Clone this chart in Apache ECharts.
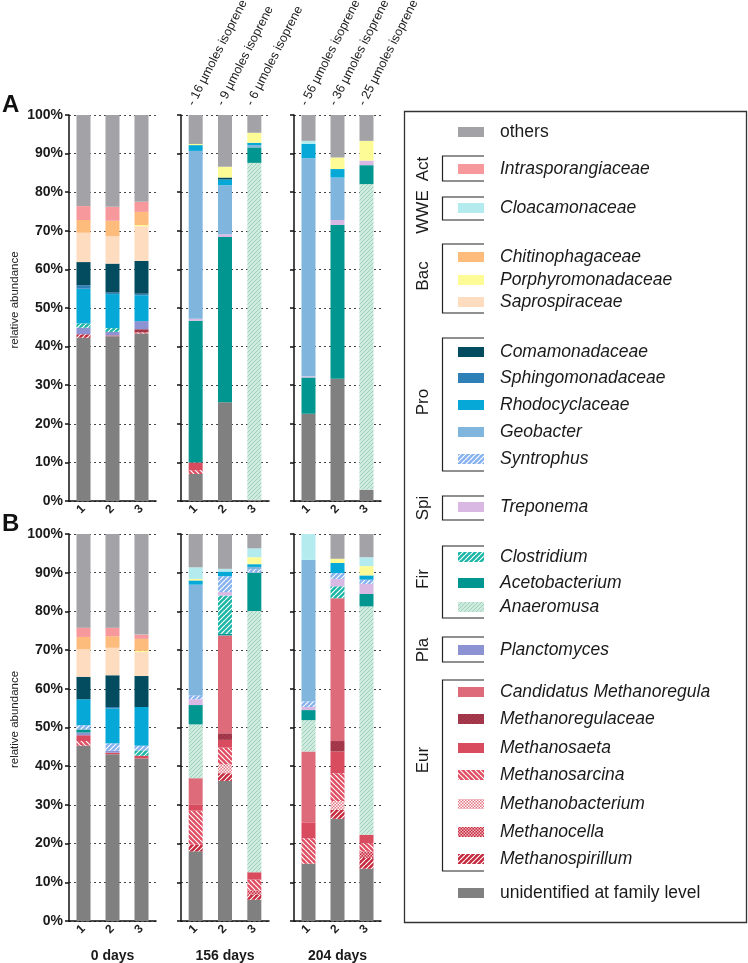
<!DOCTYPE html>
<html><head><meta charset="utf-8">
<script src="https://cdn.jsdelivr.net/npm/echarts@6/dist/echarts.min.js"></script>
<style>html,body{margin:0;padding:0;background:#fff}#c{width:748px;height:963px}</style>
</head><body><div id="c"></div><script>
// ---------------- DATA ----------------
const groupLabels = ['0 days', '156 days', '204 days'];
const replicateLabels = ['1', '2', '3'];
const panelLabels = ['A', 'B'];
const yTickFormat = '{value}%';
const isopreneNotes = ['- 16 µmoles isoprene', '- 9 µmoles isoprene', '- 6 µmoles isoprene',
                       '- 56 µmoles isoprene', '- 36 µmoles isoprene', '- 25 µmoles isoprene'];
// Each array has 18 bars: panel A (0 d r1-3, 156 d r1-3, 204 d r1-3), then panel B (same order)
const unidentified       = [42.3,42.7,43.4, 7.0,25.6,0.3, 22.6,31.7,2.9,  45.3,43.1,42.0, 18.0,36.2,5.5, 14.8,26.4,13.5];
const methanospirillum   = [0.9,0,0, 0,0,0, 0,0,0,  0,0,0, 1.7,2.0,1.3, 0,2.3,2.8];
const methanocella       = [0,0,0, 0,0,0, 0,0,0,  0,0,0, 0,0,1.1, 0,0,1.7];
const methanobacterium   = [0,0,0, 0,0,0, 0,0,0,  0,0,0, 0,2.3,0, 0,2.3,0];
const methanosarcina     = [0,0,0.3, 1.0,0,0, 0,0,0,  1.2,0,0, 8.8,4.3,2.8, 6.6,7.2,2.1];
const methanosaeta       = [0,0.2,0, 2.0,0,0, 0,0,0,  1.5,0.4,0.7, 1.5,2.0,1.9, 4.1,5.6,2.2];
const methanoregulaceae  = [0,0,0.8, 0,0,0, 0,0,0,  0,0,0, 0,1.7,0, 0,2.7,0];
const candMethanoregula  = [0,0,0, 0,0,0, 0,0,0,  0,0,0, 6.9,25.3,0, 18.3,36.9,0];
const planctomyces       = [1.7,0.9,2.1, 0,0,0, 0,0,0,  0.7,0.5,0, 0,0,0, 0,0,0];
const anaeromusa         = [0,0,0, 0,0,87.3, 0,0,79.2,  0,0,0, 13.9,0,67.5, 8.1,0,59.0];
const acetobacterium     = [0,0,0, 36.7,42.8,4.0, 9.4,39.8,4.9,  0.8,0,0, 5.0,0.4,9.9, 2.6,0,3.2];
const clostridium        = [1.1,1.0,0, 0,0,0, 0,0,0,  0,0,1.4, 0,9.9,0, 0,3.1,0];
const treponema          = [0,0,0, 0.5,0.7,0, 0.3,1.3,1.2,  0,0,0, 1.5,0.9,0, 0.8,1.9,2.6];
const syntrophus         = [0,0,0, 0,0,0, 0,0,0,  1.1,1.9,1.2, 1.0,4.1,0.9, 1.5,1.5,1.1];
const geobacter          = [0,0,0, 43.5,12.7,0.6, 56.5,11.0,0,  0,0,0, 28.6,0,0.6, 36.5,0,0];
const rhodocyclaceae     = [9.0,8.8,6.7, 1.5,1.5,0.6, 3.7,2.2,0,  6.7,9.0,10.0, 1.1,1.2,0.7, 0,2.6,1.1];
const sphingomonadaceae  = [0.9,0.4,0.4, 0,0,0, 0,0,0,  0,0.4,0, 0,0,0, 0,0,0];
const comamonadaceae     = [6.0,7.5,8.5, 0,0.5,0, 0,0,0,  5.8,8.2,8.0, 0,0,0, 0,0,0];
const saprospiraceae     = [7.6,7.1,9.0, 0,0,0, 0,0,0,  7.1,7.1,6.2, 0,0,0, 0,0,0];
const porphyromonadaceae = [0,0,0.3, 0.3,2.8,2.6, 0,3.0,5.1,  0,0,0.3, 0.4,0,1.8, 0,1.1,2.4];
const chitinophagaceae   = [3.3,4.0,3.4, 0,0,0, 0,0,0,  3.2,3.0,3.1, 0,0,0, 0,0,0];
const cloacamonaceae     = [0,0,0, 0,0,0, 0.8,0,0,  0,0,0, 3.0,0.7,2.3, 6.7,0,2.3];
const intrasporangiaceae = [3.6,3.6,2.6, 0,0,0, 0,0,0,  2.4,2.2,1.1, 0,0,0, 0,0,0];
const others             = [23.6,23.8,22.5, 7.5,13.4,4.6, 6.7,11.0,6.7,  24.2,24.2,26.0, 8.6,9.0,3.7, 0,6.4,6.0];

// ---------------- STYLE HELPERS ----------------
const FONT = "'Liberation Sans', Arial, Helvetica, sans-serif";
function stripes(bg, fg, size, lw, dir) {
  const c = document.createElement('canvas'); c.width = c.height = size;
  const x = c.getContext('2d');
  x.fillStyle = bg; x.fillRect(0, 0, size, size);
  x.strokeStyle = fg; x.lineWidth = lw; x.beginPath();
  for (const x0 of [-size, 0, size]) {
    if (dir > 0) { x.moveTo(x0, size); x.lineTo(x0 + size, 0); }
    else { x.moveTo(x0, 0); x.lineTo(x0 + size, size); }
  }
  x.stroke();
  return { image: c, repeat: 'repeat' };
}
function checker(bg, fg, cell) {
  const size = cell * 2;
  const c = document.createElement('canvas'); c.width = c.height = size;
  const x = c.getContext('2d');
  x.fillStyle = bg; x.fillRect(0, 0, size, size);
  x.fillStyle = fg; x.fillRect(0, 0, cell, cell); x.fillRect(cell, cell, cell, cell);
  return { image: c, repeat: 'repeat' };
}

// stacking order bottom -> top
const taxa = [
  { name: 'unidentified at family level', data: unidentified, color: '#808080', italic: false },
  { name: 'Methanospirillum', data: methanospirillum, color: stripes('#c52a3e', '#ffffff', 5, 1.1, 1), italic: true },
  { name: 'Methanocella', data: methanocella, color: checker('#c52a3e', '#f1b6be', 1.5), italic: true },
  { name: 'Methanobacterium', data: methanobacterium, color: checker('#e27685', '#ffffff', 1.5), italic: true },
  { name: 'Methanosarcina', data: methanosarcina, color: stripes('#e04e63', '#ffffff', 5, 1.2, -1), italic: true },
  { name: 'Methanosaeta', data: methanosaeta, color: '#d94b5f', italic: true },
  { name: 'Methanoregulaceae', data: methanoregulaceae, color: stripes('#a63a4c', '#963042', 4, 1, 1), italic: true },
  { name: 'Candidatus Methanoregula', data: candMethanoregula, color: '#de6b7a', italic: true },
  { name: 'Planctomyces', data: planctomyces, color: '#8c92d2', italic: true },
  { name: 'Anaeromusa', data: anaeromusa, color: stripes('#cfeade', '#9ed2ba', 4, 1, 1), italic: true },
  { name: 'Acetobacterium', data: acetobacterium, color: '#019690', italic: true },
  { name: 'Clostridium', data: clostridium, color: stripes('#1bb6a7', '#ffffff', 5, 1.2, 1), italic: true },
  { name: 'Treponema', data: treponema, color: '#d9b9e4', italic: true },
  { name: 'Syntrophus', data: syntrophus, color: stripes('#86b2ef', '#ffffff', 5, 1.2, 1), italic: true },
  { name: 'Geobacter', data: geobacter, color: '#80b6dd', italic: true },
  { name: 'Rhodocyclaceae', data: rhodocyclaceae, color: '#05a8d6', italic: true },
  { name: 'Sphingomonadaceae', data: sphingomonadaceae, color: '#2f80b6', italic: true },
  { name: 'Comamonadaceae', data: comamonadaceae, color: '#034c60', italic: true },
  { name: 'Saprospiraceae', data: saprospiraceae, color: '#fedcc0', italic: true },
  { name: 'Porphyromonadaceae', data: porphyromonadaceae, color: '#fdfb96', italic: true },
  { name: 'Chitinophagaceae', data: chitinophagaceae, color: '#fdbb7c', italic: true },
  { name: 'Cloacamonaceae', data: cloacamonaceae, color: '#b4ebef', italic: true },
  { name: 'Intrasporangiaceae', data: intrasporangiaceae, color: '#f6989c', italic: true },
  { name: 'others', data: others, color: '#a2a2a7', italic: false }
];

// ---------------- LAYOUT ----------------
const gridLefts = [69, 181, 294];
const gridWidths = [87, 88, 87];
const rowTops = [115, 534];
const rowHeights = [386, 387];

const grids = [], xAxes = [], yAxes = [], series = [];
for (let r = 0; r < 2; r++) {
  for (let g = 0; g < 3; g++) {
    const idx = r * 3 + g;
    grids.push({ left: gridLefts[g], top: rowTops[r], width: gridWidths[g], height: rowHeights[r] });
    xAxes.push({
      type: 'category', gridIndex: idx, data: replicateLabels,
      axisLine: { lineStyle: { color: '#111', width: 1.5 } },
      axisTick: { alignWithLabel: true, length: 4, lineStyle: { color: '#111', width: 1.5 } },
      axisLabel: { rotate: 45, fontSize: 12, fontWeight: 'bold', color: '#222', fontFamily: FONT, margin: 6 }
    });
    yAxes.push({
      type: 'value', gridIndex: idx, min: 0, max: 100, interval: 10,
      axisLine: { show: true, lineStyle: { color: '#111', width: 1.5 } },
      axisTick: { show: true, length: 4, lineStyle: { color: '#111', width: 1.5 } },
      axisLabel: { show: g === 0, formatter: yTickFormat, fontSize: 14, fontWeight: 'bold', color: '#1a1a1a', fontFamily: FONT, margin: 6 },
      splitLine: { show: true, lineStyle: { color: '#444', width: 1, type: [2, 3] } }
    });
    const start = (r * 3 + g) * 3;
    taxa.forEach(t => {
      series.push({
        type: 'bar', name: t.name, xAxisIndex: idx, yAxisIndex: idx, stack: 's' + idx,
        barWidth: 14, silent: true,
        itemStyle: { color: t.color },
        data: t.data.slice(start, start + 3)
      });
    });
  }
}

const chart = echarts.init(document.getElementById('c'), null, { renderer: 'canvas' });
chart.setOption({
  animation: false, backgroundColor: '#fff',
  grid: grids, xAxis: xAxes, yAxis: yAxes, series: series
});

// ---------------- GRAPHIC (labels, legend) ----------------
const gr = [];
// panel letters and y-axis titles
panelLabels.forEach((p, r) => {
  gr.push({ type: 'text', x: 2, y: rowTops[r] - 22, style: { text: p, font: 'bold 24px ' + FONT, fill: '#111' } });
  gr.push({ type: 'text', x: 15, y: rowTops[r] + rowHeights[r] / 2 - 8, rotation: Math.PI / 2,
    style: { text: 'relative abundance', font: '11.5px ' + FONT, fill: '#222', textAlign: 'center', textVerticalAlign: 'middle' } });
});
// day labels under panel B
groupLabels.forEach((lab, g) => {
  const p = chart.convertToPixel({ gridIndex: 3 + g }, [1, 0]);
  gr.push({ type: 'text', x: p[0], y: 956, style: { text: lab, font: 'bold 14px ' + FONT, fill: '#1a1a1a', textAlign: 'center', textVerticalAlign: 'middle' } });
});
// isoprene annotations above panel A, groups 156 d and 204 d
isopreneNotes.forEach((txt, i) => {
  const gi = 1 + Math.floor(i / 3), cat = i % 3;
  const p = chart.convertToPixel({ gridIndex: gi }, [cat, 100]);
  gr.push({ type: 'text', x: p[0] + 1, y: p[1] - 7, rotation: 63 * Math.PI / 180,
    style: { text: txt, font: '12.5px ' + FONT, fill: '#222', textAlign: 'left', textVerticalAlign: 'bottom' } });
});
// legend box
gr.push({ type: 'rect', shape: { x: 404.5, y: 111.5, width: 342, height: 811 }, style: { fill: 'none', stroke: '#333', lineWidth: 1.3 } });
const legendOrder = taxa.slice().reverse();
const legendY = [132, 169, 208, 257, 280, 302, 352, 378, 405, 432, 459, 507, 557, 583, 607, 650, 692, 719, 748, 775, 804, 832, 859, 893];
const legendNames = ['others','Intrasporangiaceae','Cloacamonaceae','Chitinophagaceae','Porphyromonadaceae','Saprospiraceae',
  'Comamonadaceae','Sphingomonadaceae','Rhodocyclaceae','Geobacter','Syntrophus','Treponema','Clostridium','Acetobacterium',
  'Anaeromusa','Planctomyces','Candidatus Methanoregula','Methanoregulaceae','Methanosaeta','Methanosarcina','Methanobacterium',
  'Methanocella','Methanospirillum','unidentified at family level'];
legendNames.forEach((nm, i) => {
  const t = taxa.find(d => d.name === nm);
  const y = legendY[i];
  gr.push({ type: 'rect', shape: { x: 458, y: y - 5, width: 26, height: 10 }, style: { fill: t.color } });
  gr.push({ type: 'text', x: 500, y: y, style: { text: nm, font: (t.italic ? 'italic ' : '') + '17.5px ' + FONT, fill: '#1a1a1a', textVerticalAlign: 'middle' } });
});
const phylumGroups = [
  { label: 'Act', top: 156, bottom: 181, labelY: 169 },
  { label: 'WWE', top: 197, bottom: 220, labelY: 212 },
  { label: 'Bac', top: 244, bottom: 313, labelY: 276 },
  { label: 'Pro', top: 338, bottom: 471, labelY: 402 },
  { label: 'Spi', top: 496, bottom: 520, labelY: 508 },
  { label: 'Fir', top: 546, bottom: 618, labelY: 579 },
  { label: 'Pla', top: 637, bottom: 662, labelY: 650 },
  { label: 'Eur', top: 680, bottom: 871, labelY: 760 }
];
phylumGroups.forEach(pg => {
  gr.push({ type: 'polyline', shape: { points: [[484, pg.top], [442.5, pg.top], [442.5, pg.bottom], [484, pg.bottom]] },
    style: { stroke: '#222', lineWidth: 1.2, fill: null } });
  gr.push({ type: 'text', x: 423.5, y: pg.labelY, rotation: Math.PI / 2,
    style: { text: pg.label, font: '17px ' + FONT, fill: '#1a1a1a', textAlign: 'center', textVerticalAlign: 'middle' } });
});
chart.setOption({ graphic: gr });
</script></body></html>
